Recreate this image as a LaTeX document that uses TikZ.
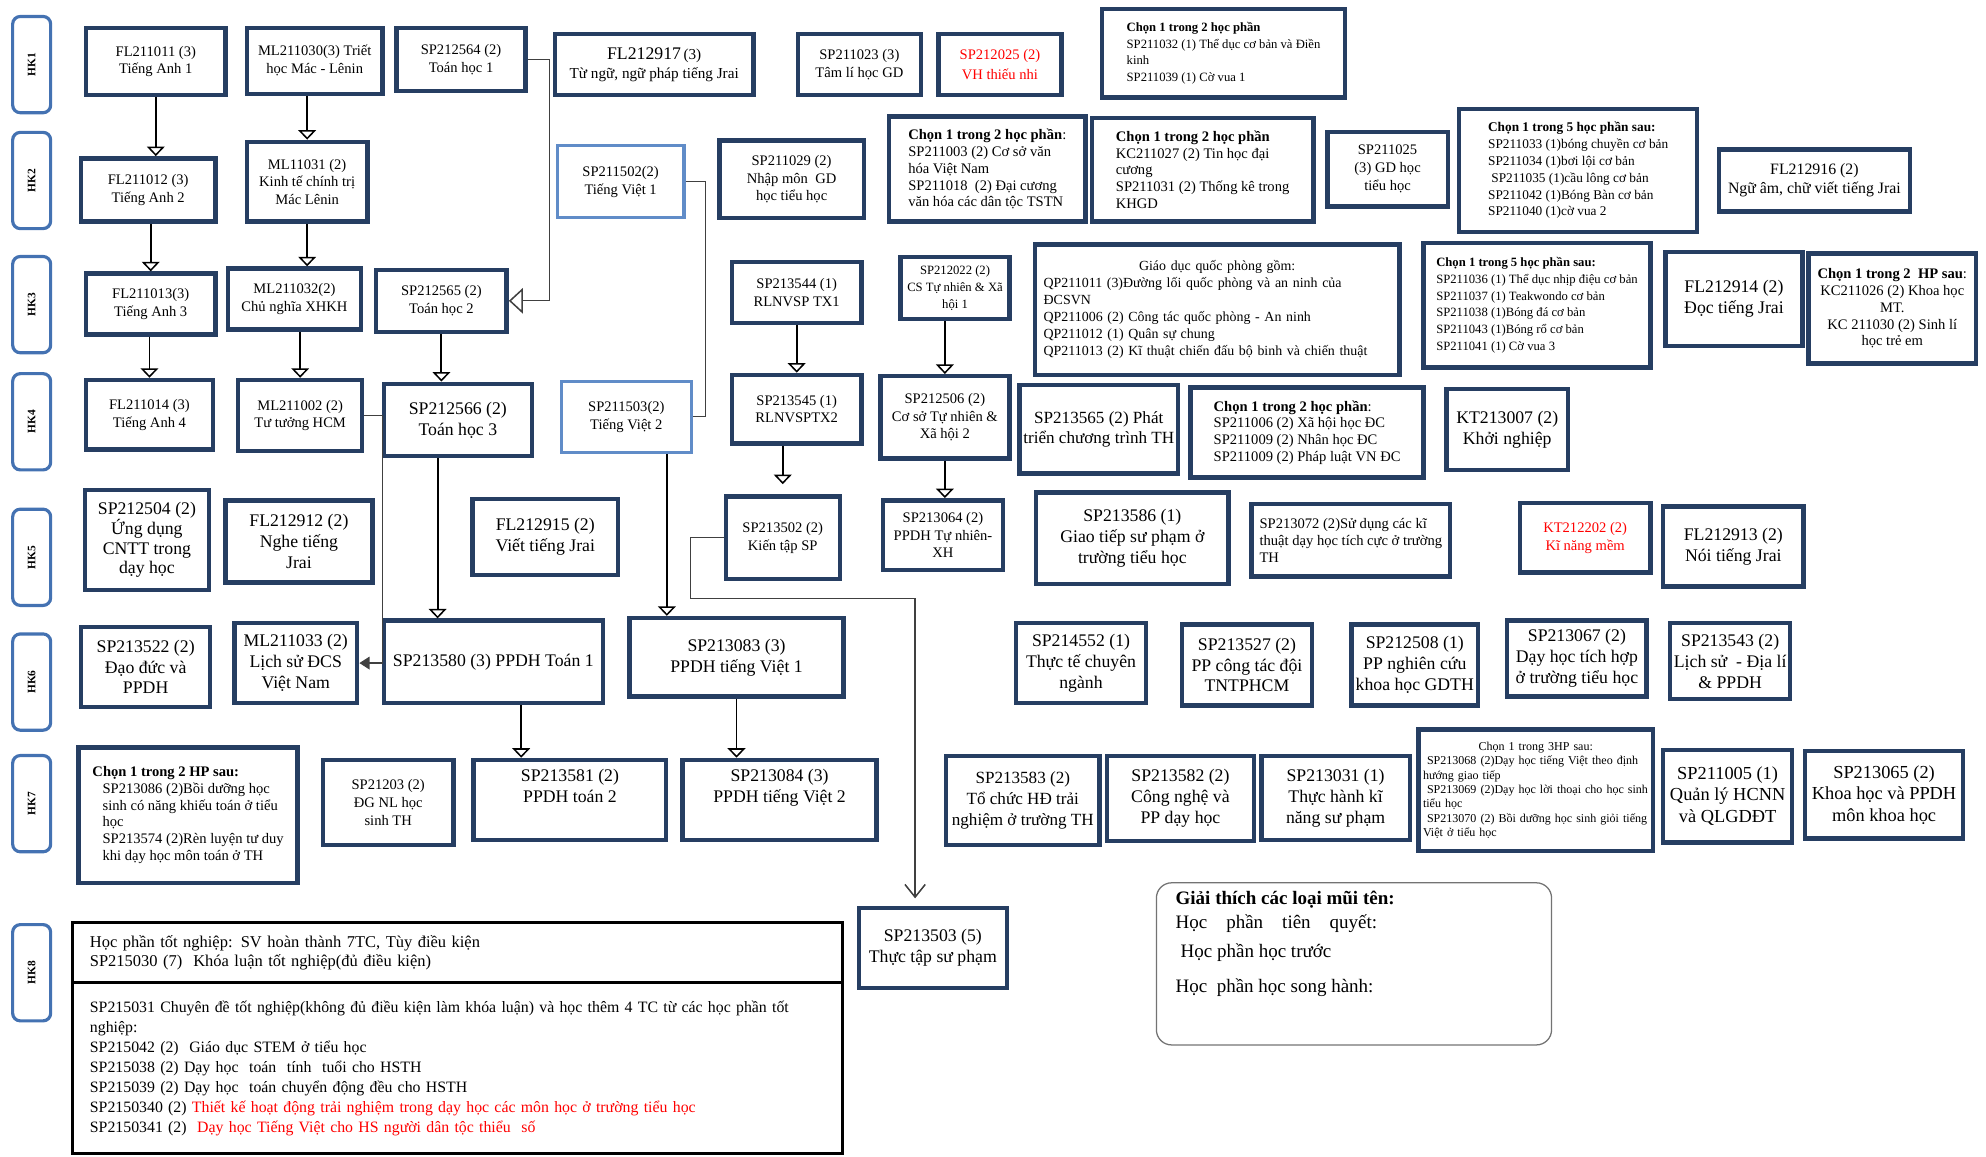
\documentclass[tikz,border=0pt]{standalone}
\usepackage{fontspec}
\setmainfont{Liberation Serif}
\usepackage{tikz}
\usetikzlibrary{shapes,arrows.meta,positioning}

\definecolor{hkblue}{RGB}{68,114,178}
\definecolor{boxnavy}{RGB}{38,62,98}
\definecolor{lineblue}{RGB}{96,140,200}
\definecolor{redtxt}{RGB}{255,0,0}

\tikzset{
  sz/.style 2 args={minimum width=#1pt, minimum height=#2pt},
  hk/.style={draw=hkblue, line width=2.5pt, rounded corners=6pt, rotate=90,
    minimum width=76pt, minimum height=30pt, font=\bfseries\fontsize{9}{10}\selectfont},
  course/.style={draw=boxnavy, line width=3.5pt, fill=white, align=center, inner sep=3pt,
    font=\fontsize{11.5}{14}\selectfont},
  lcourse/.style={course, align=left},
  tvcourse/.style={course, draw=lineblue, line width=2.5pt},
  big/.style={font=\fontsize{14}{16.5}\selectfont},
  choice/.style={font=\fontsize{11.5}{13.3}\selectfont},
  tiny/.style={font=\fontsize{9.5}{11.3}\selectfont},
  prereq/.style={draw=black, line width=1.5pt, -{Triangle[open, length=7.5pt, width=14pt, line width=1.2pt]}},
  link/.style={draw=black!75, line width=1pt},
}

\begin{document}
\begin{tikzpicture}[x=1pt, y=-1pt]

\useasboundingbox (0,0) rectangle (1568,913);

% semester labels
\node[hk] (hk1) at (25,51) {HK1};
\node[hk] (hk2) at (25,142.5) {HK2};
\node[hk] (hk3) at (25,240.5) {HK3};
\node[hk] (hk4) at (25,333) {HK4};
\node[hk] (hk5) at (25,440) {HK5};
\node[hk] (hk6) at (25,538.5) {HK6};
\node[hk] (hk7) at (25,634.5) {HK7};
\node[hk] (hk8) at (25,768) {HK8};

% HK1
\node[course, sz={110}{53}] (fla) at (123,48.5) {FL211011 (3)\\Tiếng Anh 1};
\node[course, sz={107}{52}] (mla) at (248.5,48) {ML211030(3) Triết\\học Mác - Lênin};
\node[course, sz={102}{50}] (toana) at (364,47) {SP212564 (2)\\Toán học 1};
\node[course, sz={157}{48}, font=\fontsize{12}{15}\selectfont] (jraia) at (516.5,51) {{\fontsize{14}{15}\selectfont FL212917}\,(3)\\Từ ngữ, ngữ pháp tiếng Jrai};
\node[course, sz={97}{48}] (tamli) at (678.5,51) {SP211023 (3)\\Tâm lí học GD};
\node[course, sz={97}{48}, text=redtxt] (vhtn) at (789.5,51) {SP212025 (2)\\[2pt]VH thiếu nhi};
\node[lcourse, choice, sz={192}{70}, font=\fontsize{10}{13.3}\selectfont] (tdc) at (966,42) {\textbf{Chọn 1 trong 2 học phần}\\SP211032 (1) Thể dục cơ bản và Điền\\kinh\\SP211039 (1) Cờ vua 1};

% HK2
\node[course, sz={106}{50}] (flb) at (117,150) {FL211012 (3)\\Tiếng Anh 2};
\node[course, sz={95}{63}] (mlb) at (242.5,143.5) {ML11031 (2)\\Kinh tế chính trị\\Mác Lênin};
\node[tvcourse, sz={100}{57}] (tva) at (490,143.5) {SP211502(2)\\Tiếng Việt 1};
\node[course, sz={114}{61}] (nmgd) at (625,141.5) {SP211029 (2)\\Nhập môn \ GD\\học tiểu học};
\node[lcourse, choice, sz={155}{83}] (cvh) at (779.5,133.5) {\textbf{Chọn 1 trong 2 học phần}:\\SP211003 (2) Cơ sở văn\\hóa Việt Nam\\SP211018 \ (2) Đại cương\\văn hóa các dân tộc TSTN};
\node[lcourse, choice, sz={175}{82}] (thdc) at (949.5,134) {\textbf{Chọn 1 trong 2 học phần}\\KC211027 (2) Tin học đại\\cương\\SP211031 (2) Thống kê trong\\KHGD};
\node[course, sz={95}{59}] (gdth) at (1095.5,133.5) {SP211025\\(3) GD học\\tiểu học};
\node[lcourse, choice, sz={188}{97}, font=\fontsize{10.5}{13.3}\selectfont] (tdb) at (1246,134.5) {\textbf{Chọn 1 trong 5 học phần sau:}\\SP211033 (1)bóng chuyền cơ bản\\SP211034 (1)bơi lội cơ bản\\\ SP211035 (1)cầu lông cơ bản\\SP211042 (1)Bóng Bàn cơ bản\\SP211040 (1)cờ vua 2};
\node[course, sz={151}{49}, font=\fontsize{12.5}{15}\selectfont] (jraib) at (1432.5,142.5) {FL212916 (2)\\Ngữ âm, chữ viết tiếng Jrai};

% HK3
\node[course, sz={102}{48}] (flc) at (119,240) {FL211013(3)\\Tiếng Anh 3};
\node[course, sz={105}{48}] (mlc) at (232.5,236) {ML211032(2)\\Chủ nghĩa XHKH};
\node[course, sz={103}{49}] (toanb) at (348.5,237.5) {SP212565 (2)\\Toán học 2};
\node[course, sz={102}{48}] (rla) at (629,231) {SP213544 (1)\\RLNVSP TX1};
\node[course, sz={86}{49}, font=\fontsize{10}{13.5}\selectfont] (tnxa) at (754,227.5) {SP212022 (2)\\CS Tự nhiên \& Xã\\hội 1};
\node[lcourse, sz={288}{103}, text width=274pt, font=\fontsize{11}{13.5}\selectfont] (gdqp) at (961,244.5) {\makebox[\linewidth]{Giáo dục quốc phòng gồm:}\\QP211011 (3)Đường lối quốc phòng và an ninh của\\ĐCSVN\\QP211006 (2) Công tác quốc phòng - An ninh\\QP211012 (1) Quân sự chung\\QP211013 (2) Kĩ thuật chiến đấu bộ binh và chiến thuật};
\node[lcourse, sz={179}{98}, font=\fontsize{10}{13.3}\selectfont] (tdc2) at (1213.5,241) {\textbf{Chọn 1 trong 5 học phần sau:}\\SP211036 (1) Thể dục nhịp điệu cơ bản\\SP211037 (1) Teakwondo cơ bản\\SP211038 (1)Bóng đá cơ bản\\SP211043 (1)Bóng rổ cơ bản\\SP211041 (1) Cờ vua 3};
\node[course, big, sz={108}{74}] (jraic) at (1369,236) {FL212914 (2)\\Đọc tiếng Jrai};
\node[course, choice, sz={132}{87}] (kcmt) at (1494,243.5) {\textbf{Chọn 1 trong 2 \ HP sau}:\\KC211026 (2) Khoa học\\MT.\\KC 211030 (2) Sinh lí\\học trẻ em};

% HK4
\node[course, sz={100}{55}] (fld) at (118,327.5) {FL211014 (3)\\Tiếng Anh 4};
\node[course, sz={98}{56}] (mld) at (237,328) {ML211002 (2)\\Tư tưởng HCM};
\node[course, big, sz={117}{57}] (toanc) at (361.5,331.5) {SP212566 (2)\\Toán học 3};
\node[tvcourse, sz={103}{56}] (tvb) at (494.5,329) {SP211503(2)\\Tiếng Việt 2};
\node[course, sz={102}{54}] (rlb) at (629,323) {SP213545 (1)\\RLNVSPTX2};
\node[course, sz={102}{65}] (tnxb) at (746,329.5) {SP212506 (2)\\Cơ sở Tự nhiên \&\\Xã hội 2};
\node[course, sz={125}{70}, font=\fontsize{13.5}{16.5}\selectfont] (ptct) at (867.5,339) {SP213565 (2) Phát\\triển chương trình TH};
\node[lcourse, choice, sz={184}{71}] (xhh) at (1032,341.5) {\textbf{Chọn 1 trong 2 học phần}:\\SP211006 (2) Xã hội học ĐC\\SP211009 (2) Nhân học ĐC\\SP211009 (2) Pháp luật VN ĐC};
\node[course, big, sz={96}{64}] (khn) at (1190,339) {KT213007 (2)\\Khởi nghiệp};

% HK5
\node[course, big, sz={98}{79}, font=\fontsize{14}{15.5}\selectfont] (cntt) at (116,426.5) {SP212504 (2)\\Ứng dụng\\CNTT trong\\dạy học};
\node[course, big, sz={116}{65}] (jraid) at (236,427.5) {FL212912 (2)\\Nghe tiếng\\Jrai};
\node[course, big, sz={115}{60}] (jraie) at (430.5,424) {FL212915 (2)\\Viết tiếng Jrai};
\node[course, sz={90}{65}] (kientap) at (618,424.5) {SP213502 (2)\\Kiến tập SP};
\node[course, sz={95}{55}] (pptn) at (744.5,422.5) {SP213064 (2)\\PPDH Tự nhiên-\\XH};
\node[course, big, sz={152}{72}] (gtsp) at (894,425) {SP213586 (1)\\Giao tiếp sư phạm ở\\trường tiểu học};
\node[lcourse, choice, sz={157}{57}] (ktdh) at (1066.5,426.5) {SP213072 (2)Sử dụng các kĩ\\thuật dạy học tích cực ở trường\\TH};
\node[course, sz={103}{55}, text=redtxt] (knm) at (1251.5,424.5) {KT212202 (2)\\Kĩ năng mềm};
\node[course, big, sz={111}{63}] (jraif) at (1368.5,431.5) {FL212913 (2)\\Nói tiếng Jrai};

% HK6
\node[course, big, sz={102}{63}] (ddpp) at (115,526.5) {SP213522 (2)\\Đạo đức và\\PPDH};
\node[course, big, sz={97}{63}] (mle) at (233.5,523.5) {ML211033 (2)\\Lịch sử ĐCS\\Việt Nam};
\node[course, big, sz={173}{65}] (ppta) at (389.5,522.5) {SP213580 (3) PPDH Toán 1};
\node[course, big, sz={169}{62}] (ppva) at (581.5,519) {SP213083 (3)\\PPDH tiếng Việt 1};
\node[course, big, sz={103}{63}] (ttcn) at (853.5,523.5) {SP214552 (1)\\Thực tế chuyên\\ngành};
\node[course, big, sz={103}{64}] (ctd) at (984.5,525) {SP213527 (2)\\PP công tác đội\\TNTPHCM};
\node[course, big, sz={100}{64}] (nckh) at (1117,525) {SP212508 (1)\\PP nghiên cứu\\khoa học GDTH};
\node[course, big, sz={110}{60}] (dhth) at (1245,520) {SP213067 (2)\\Dạy học tích hợp\\ở trường tiểu học};
\node[course, big, sz={92}{60}] (lsdl) at (1366,522) {SP213543 (2)\\Lịch sử \ - Địa lí\\\& PPDH};

% HK7
\node[lcourse, choice, sz={173}{107}] (bdhs) at (148.5,643.5) {\textbf{Chọn 1 trong 2 HP sau:}\\\hspace*{8pt}SP213086 (2)Bồi dưỡng học\\\hspace*{8pt}sinh có năng khiếu toán ở tiểu\\\hspace*{8pt}học\\\hspace*{8pt}SP213574 (2)Rèn luyện tư duy\\\hspace*{8pt}khi dạy học môn toán ở TH};
\node[course, sz={103}{67}] (dgnl) at (306.5,633.5) {SP21203 (2)\\ĐG NL học\\sinh TH};
\node[course, big, sz={152}{63}] (pptb) at (450,631.5) {SP213581 (2)\\PPDH toán 2\\[6pt]};
\node[course, big, sz={153}{63}] (ppvb) at (615.5,631.5) {SP213084 (3)\\PPDH tiếng Việt 2\\[6pt]};
\node[course, sz={121}{70}, font=\fontsize{13.5}{16.5}\selectfont] (hdtn) at (807.5,632) {SP213583 (2)\\Tổ chức HĐ trải\\nghiệm ở trường TH};
\node[course, big, sz={116}{67}] (cnpp) at (932,630.5) {SP213582 (2)\\Công nghệ và\\PP dạy học};
\node[course, big, sz={117}{66}] (thkn) at (1054.5,630) {SP213031 (1)\\Thực hành kĩ\\năng sư phạm};
\node[lcourse, tiny, sz={185}{96}, text width=178pt] (tvgt) at (1212.5,624) {\makebox[\linewidth]{Chọn 1 trong 3HP sau:}\\\ SP213068 (2)Dạy học tiếng Việt theo định\\hướng giao tiếp\\\ SP213069 (2)Dạy học lời thoại cho học sinh\\tiểu học\\\ SP213070 (2) Bồi dưỡng học sinh giỏi tiếng\\Việt ở tiểu học};
\node[course, sz={102}{73}, font=\fontsize{14.5}{17}\selectfont] (qlhc) at (1364,628.5) {SP211005 (1)\\Quản lý HCNN\\và QLGDĐT};
\node[course, sz={125}{69}, font=\fontsize{14.5}{17}\selectfont] (khpp) at (1487.5,627.5) {SP213065 (2)\\Khoa học và PPDH\\môn khoa học};

% HK8
\node[draw=black, line width=2.5pt, fill=white, sz={608}{48}, inner xsep=14pt, text width=580pt, align=left, font=\fontsize{13}{15}\selectfont] (tnga) at (361,752) {Học phần tốt nghiệp: SV hoàn thành 7TC, Tùy điều kiện\\SP215030 (7) \ Khóa luận tốt nghiệp(đủ điều kiện)};
\node[draw=black, line width=2.5pt, fill=white, sz={608}{135}, inner xsep=14pt, text width=580pt, align=left, font=\fontsize{12.5}{15.7}\selectfont] (tngb) at (361,843.5) {SP215031 Chuyên đề tốt nghiệp(không đủ điều kiện làm khóa luận) và học thêm 4 TC từ các học phần tốt\\nghiệp:\\SP215042 (2) \ Giáo dục STEM ở tiểu học\\SP215038 (2) Dạy học \ toán \ tính \ tuổi cho HSTH\\SP215039 (2) Dạy học \ toán chuyển động đều cho HSTH\\SP2150340 (2) \textcolor{redtxt}{Thiết kế hoạt động trải nghiệm trong dạy học các môn học ở trường tiểu học}\\SP2150341 (2) \ \textcolor{redtxt}{Dạy học Tiếng Việt cho HS người dân tộc thiểu \ số}};
\node[course, big, sz={117}{63}] (ttsp) at (736.5,748.5) {SP213503 (5)\\Thực tập sư phạm};

% legend
\node[draw=black!55, line width=1pt, rounded corners=12pt, sz={312}{128}] (legend) at (1069,761) {};
\node[anchor=north west, align=left, inner sep=0pt, font=\fontsize{15}{19}\selectfont] (legtxt) at (928,703) {\textbf{Giải thích các loại mũi tên:}\\Học\quad phần\quad tiên\quad quyết:\\[4pt]\hspace*{4pt}Học phần học trước\\[9pt]Học\ \ phần học song hành:};

% connectors
\draw[prereq] (fla.south) -- (fla |- flb.north);
\draw[prereq] (mlb |- mla.south) -- (mlb.north);
\draw[prereq] (flc |- flb.south) -- (flc.north);
\draw[prereq] (mlb.south) -- (mlb |- mlc.north);
\draw[prereq] (fld |- flc.south) -- (fld.north);
\draw[prereq] (mld |- mlc.south) -- (mld.north);
\draw[prereq] (toanb.south) -- (toanb |- toanc.north);
\draw[link, -{Triangle[open, length=11pt, width=20pt, line width=1.2pt]}] (toana.east) -- ++(17,0) |- (toanb.east);
\draw[link] (tva.east) -- ++(16,0) |- (tvb.east);
\draw[prereq] (rla.south) -- (rlb.north);
\draw[prereq] (tnxb |- tnxa.south) -- (tnxb.north);
\draw[prereq, shorten >=8pt] (kientap |- rlb.south) -- (kientap.north);
\draw[prereq] (tnxb.south) -- (tnxb |- pptn.north);

\coordinate (toan3) at ([xshift=-16pt]toanc.south);
\draw[prereq] (toan3) -- (toan3 |- ppta.north);
\coordinate (tviet2) at ([xshift=32pt]tvb.south);
\draw[prereq] (tviet2) -- (tviet2 |- ppva.north);
\draw[link, -{Triangle[length=8pt, width=10pt]}] (mld.east) -- ++(14,0) |- (mle.east);
\coordinate (toan4) at ([xshift=22pt]ppta.south);
\draw[prereq] (toan4) -- (toan4 |- pptb.north);
\draw[prereq] (ppva.south) -- (ppva |- ppvb.north);
\coordinate (ttin) at ([xshift=-14pt]ttsp.north);
\draw[link, line width=1.2pt, shorten >=6pt, -{Straight Barb[length=10pt, width=16pt, line width=1.2pt]}] (kientap.west) -- ++(-26,0) -- ++(0,48) -| (ttin);

\end{tikzpicture}
\end{document}
